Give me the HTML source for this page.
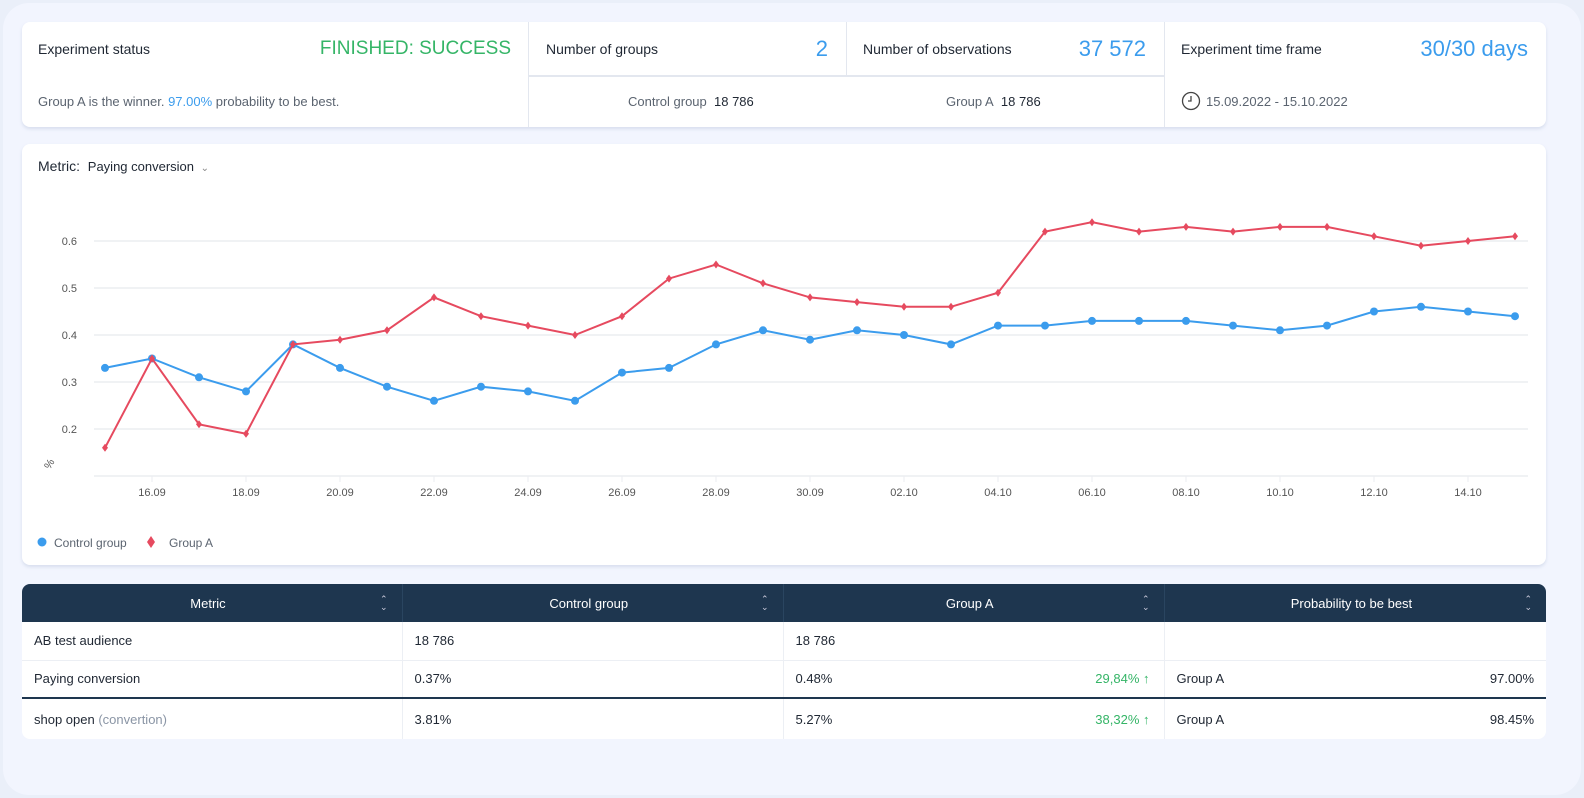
<!DOCTYPE html>
<html><head><meta charset="utf-8"><style>
*{box-sizing:border-box;margin:0;padding:0}
body{width:1584px;height:798px;background:#eaeff9;font-family:"Liberation Sans",sans-serif;position:relative;overflow:hidden;color:#1f2733}
.frame{position:absolute;left:3px;top:3px;width:1578px;height:792px;background:#f2f5fe;border-radius:26px}
.card{position:absolute;background:#fff;border-radius:8px;box-shadow:0 2px 3px rgba(140,155,190,.25)}
.a{position:absolute;white-space:nowrap}
.lbl{font-size:14px;color:#1f2733}
.big{font-size:22px;color:#3b9ced;text-align:right;width:200px}
.sub{font-size:13px;color:#5b6470}
.vl{position:absolute;width:1px;background:#e3e7ef}
.hl{position:absolute;height:1px;background:#e3e7ef}
table{position:absolute;left:22px;top:584px;width:1524px;border-collapse:collapse;font-size:13px;table-layout:fixed}
th{background:#1e364f;color:#fff;font-weight:normal;height:38px;border-right:1px solid #2a4560;padding:0 14px}
th:first-child{border-top-left-radius:8px}th:last-child{border-top-right-radius:8px;border-right:none}
th .f,td .f{display:flex;justify-content:space-between;align-items:center}
th .s{font-size:9px;line-height:8px;color:#ccd;text-align:center}
td{height:38px;padding:0 12px;border-right:1px solid #eceff4;border-bottom:1px solid #eceff4;background:#fff}
td:last-child{border-right:none}
.g{color:#35b567;margin-right:2px}
</style></head><body>
<div class="frame"></div>

<div class="card" style="left:22px;top:22px;width:1524px;height:105px"></div>
<div class="vl" style="left:528px;top:22px;height:105px"></div>
<div class="vl" style="left:846px;top:22px;height:53px"></div>
<div class="vl" style="left:1164px;top:22px;height:105px"></div>
<div class="hl" style="left:528px;top:75px;width:636px;height:2px"></div>
<div class="a lbl" style="left:38px;top:41px">Experiment status</div>
<div class="a" style="left:311px;top:38px;font-size:19px;color:#35b567;width:200px;text-align:right">FINISHED: SUCCESS</div>
<div class="a sub" style="left:38px;top:94px">Group A is the winner. <span style="color:#3b9ced">97.00%</span> probability to be best.</div>
<div class="a lbl" style="left:546px;top:41px">Number of groups</div>
<div class="a big" style="left:628px;top:36px">2</div>
<div class="a lbl" style="left:863px;top:41px">Number of observations</div>
<div class="a big" style="left:946px;top:36px">37 572</div>
<div class="a lbl" style="left:1181px;top:41px">Experiment time frame</div>
<div class="a big" style="left:1328px;top:36px">30/30 days</div>
<div class="a sub" style="left:628px;top:94px">Control group&nbsp;&nbsp;<span style="color:#1f2733">18 786</span></div>
<div class="a sub" style="left:946px;top:94px">Group A&nbsp;&nbsp;<span style="color:#1f2733">18 786</span></div>
<svg class="a" style="left:1181px;top:91px" width="20" height="20"><circle cx="10" cy="10" r="8.5" fill="none" stroke="#444" stroke-width="1.3"/><path d="M10 5v5h-3" fill="none" stroke="#444" stroke-width="1.3"/></svg>
<div class="a sub" style="left:1206px;top:94px">15.09.2022 - 15.10.2022</div>

<div class="card" style="left:22px;top:144px;width:1524px;height:421px"></div>
<div class="a lbl" style="left:38px;top:158px">Metric:&nbsp; <span style="font-size:13px">Paying conversion</span> <span style="color:#888;font-size:10px">&nbsp;&#8964;</span></div>
<svg class="a" style="left:0;top:0" width="1584" height="798">
<g stroke="#ebedf1" stroke-width="1.5">
<line x1="94" x2="1528" y1="241" y2="241"/><line x1="94" x2="1528" y1="288" y2="288"/><line x1="94" x2="1528" y1="335" y2="335"/><line x1="94" x2="1528" y1="382" y2="382"/><line x1="94" x2="1528" y1="429" y2="429"/><line x1="94" x2="1528" y1="476" y2="476"/>
</g>
<g font-size="11" fill="#555" font-family="Liberation Sans,sans-serif" text-anchor="end">
<text x="77" y="245">0.6</text><text x="77" y="292">0.5</text><text x="77" y="339">0.4</text><text x="77" y="386">0.3</text><text x="77" y="433">0.2</text>
</g>
<text x="0" y="0" font-size="11" fill="#555" transform="translate(50,470) rotate(-60)">%</text>
<g font-size="11" fill="#555" font-family="Liberation Sans,sans-serif" text-anchor="middle">
<text x="152" y="496">16.09</text><text x="246" y="496">18.09</text><text x="340" y="496">20.09</text><text x="434" y="496">22.09</text><text x="528" y="496">24.09</text><text x="622" y="496">26.09</text><text x="716" y="496">28.09</text><text x="810" y="496">30.09</text><text x="904" y="496">02.10</text><text x="998" y="496">04.10</text><text x="1092" y="496">06.10</text><text x="1186" y="496">08.10</text><text x="1280" y="496">10.10</text><text x="1374" y="496">12.10</text><text x="1468" y="496">14.10</text>
</g>
<g id="plot"></g>
<circle cx="42" cy="542" r="4.5" fill="#3b9ced"/>
<text x="54" y="547" font-size="12" fill="#5b6470">Control group</text>
<path d="M151 536l4 6-4 6-4-6z" fill="#e64a5f"/>
<text x="169" y="547" font-size="12" fill="#5b6470">Group A</text>
</svg>

<table>
<colgroup><col style="width:380px"><col style="width:381px"><col style="width:381px"><col></colgroup>
<tr><th><div class="f"><span></span><span>Metric</span><span class="s">&#8963;<br>&#8964;</span></div></th><th><div class="f"><span></span><span>Control group</span><span class="s">&#8963;<br>&#8964;</span></div></th><th><div class="f"><span></span><span>Group A</span><span class="s">&#8963;<br>&#8964;</span></div></th><th><div class="f"><span></span><span>Probability to be best</span><span class="s">&#8963;<br>&#8964;</span></div></th></tr>
<tr><td>AB test audience</td><td>18 786</td><td>18 786</td><td></td></tr>
<tr><td style="border-bottom:2px solid #1e364f">Paying conversion</td><td style="border-bottom:2px solid #1e364f">0.37%</td><td style="border-bottom:2px solid #1e364f"><div class="f"><span>0.48%</span><span class="g">29,84% &#8593;</span></div></td><td style="border-bottom:2px solid #1e364f"><div class="f"><span>Group A</span><span>97.00%</span></div></td></tr>
<tr><td style="height:41px;border-bottom:none;border-bottom-left-radius:8px">shop open <span style="color:#8a95a5">(convertion)</span></td><td style="border-bottom:none">3.81%</td><td style="border-bottom:none"><div class="f"><span>5.27%</span><span class="g">38,32% &#8593;</span></div></td><td style="border-bottom:none;border-bottom-right-radius:8px"><div class="f"><span>Group A</span><span>98.45%</span></div></td></tr>
</table>
<script>
var b=[.33,.35,.31,.28,.38,.33,.29,.26,.29,.28,.26,.32,.33,.38,.41,.39,.41,.40,.38,.42,.42,.43,.43,.43,.42,.41,.42,.45,.46,.45,.44];
var r=[.16,.35,.21,.19,.38,.39,.41,.48,.44,.42,.40,.44,.52,.55,.51,.48,.47,.46,.46,.49,.62,.64,.62,.63,.62,.63,.63,.61,.59,.60,.61];
function X(i){return 105+i*47}function Y(v){return 241+(0.6-v)*470}
var s='<g stroke="#ebedf1">';for(var i=1;i<30;i+=2)s+='<line x1="'+X(i)+'" x2="'+X(i)+'" y1="476" y2="482"/>';s+='</g>';
function pts(a){return a.map(function(v,i){return X(i)+','+Y(v).toFixed(1)}).join(' ')}
s+='<polyline points="'+pts(b)+'" fill="none" stroke="#3b9ced" stroke-width="2"/>';
b.forEach(function(v,i){s+='<circle cx="'+X(i)+'" cy="'+Y(v)+'" r="4" fill="#3b9ced"/>'});
s+='<polyline points="'+pts(r)+'" fill="none" stroke="#e64a5f" stroke-width="2"/>';
r.forEach(function(v,i){var x=X(i),y=Y(v);s+='<path d="M'+x+' '+(y-4)+'l3 4-3 4-3-4z" fill="#e64a5f"/>'});
document.getElementById('plot').innerHTML=s;
</script>
</body></html>
